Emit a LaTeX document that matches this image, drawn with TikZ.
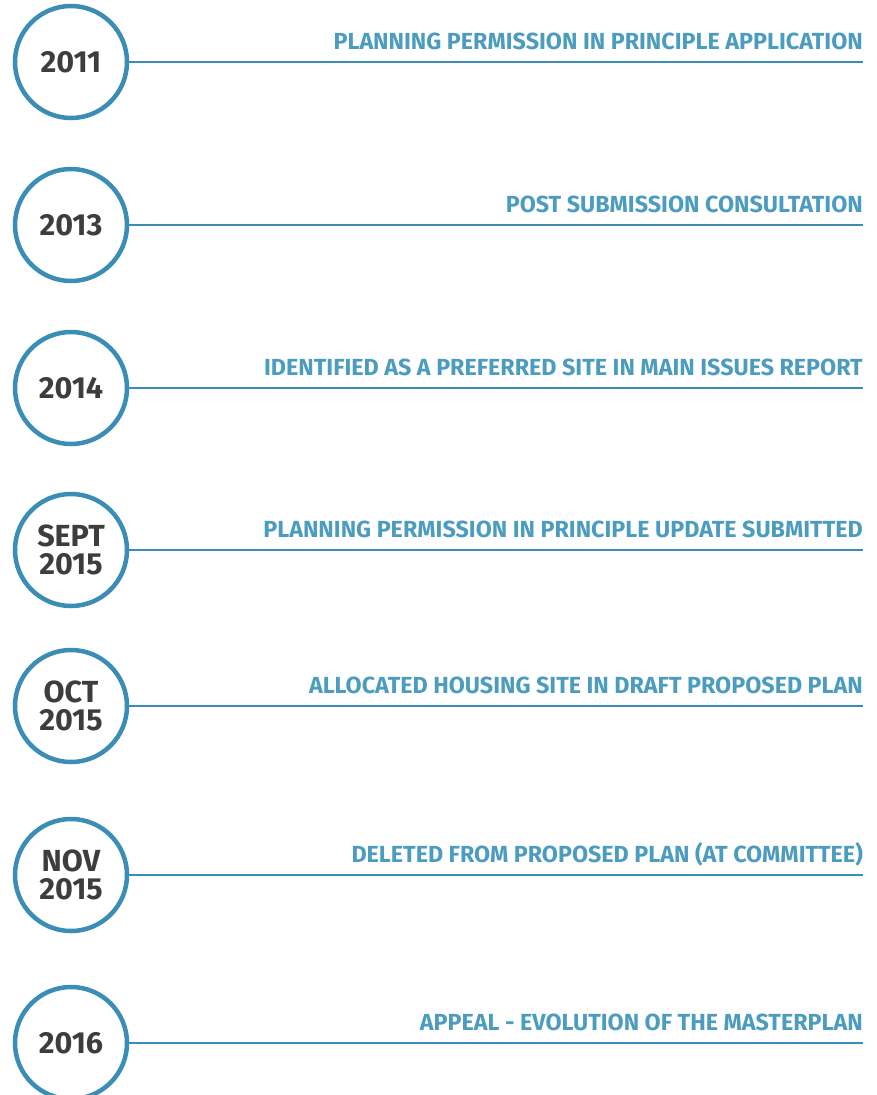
\documentclass[tikz,border=0pt]{standalone}
\usepackage{fontspec}
\setmainfont{Fira Sans}
\definecolor{rimblue}{HTML}{3A8DB4}
\definecolor{textblue}{HTML}{4C9CC0}
\definecolor{yeargrey}{HTML}{3D3D3D}

\tikzset{
	yearball/.style={circle, draw=rimblue, line width=4.5pt, fill=white,
		minimum size=112pt, inner sep=0pt, align=center, text=yeargrey,
		font=\bfseries\fontsize{30.5}{27.5}\selectfont},
	stage/.style={anchor=base east, inner sep=0pt, text=textblue,
		font=\bfseries\fontsize{23.3}{25}\selectfont},
	stem/.style={draw=rimblue, line width=1.8pt}
}

\begin{document}
\begin{tikzpicture}[x=1pt,y=-1pt]
	
	\useasboundingbox (0,0) rectangle (877,1095);
	
	% one row per milestone: year disc, rule, caption
	\foreach \y/\when/\what [count=\i] in {
		62/2011/PLANNING PERMISSION IN PRINCIPLE APPLICATION,
		225/2013/POST SUBMISSION CONSULTATION,
		388/2014/IDENTIFIED AS A PREFERRED SITE IN MAIN ISSUES REPORT,
		550/{SEPT\\2015}/PLANNING PERMISSION IN PRINCIPLE UPDATE SUBMITTED,
		706/{OCT\\2015}/ALLOCATED HOUSING SITE IN DRAFT PROPOSED PLAN,
		875/{NOV\\2015}/DELETED FROM PROPOSED PLAN (AT COMMITTEE),
		1043/2016/APPEAL - EVOLUTION OF THE MASTERPLAN} {
		\node [yearball] (year\i) at (71,\y) {\when};
		\coordinate (tip\i) at (863,\y);
		\draw [stem] (year\i) -- (tip\i);
		\node [stage] (stage\i) at (863,\y-13) {\what};
	}
	
\end{tikzpicture}
\end{document}
